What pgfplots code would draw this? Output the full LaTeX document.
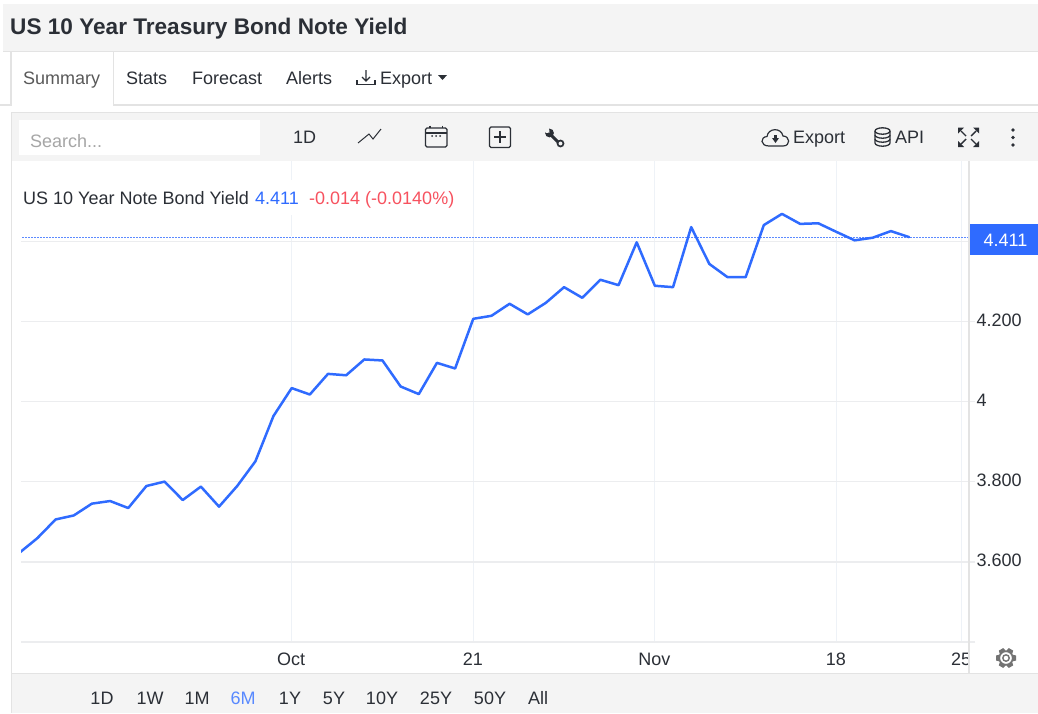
\documentclass[border=0pt]{standalone}
\usepackage{fontspec}
\setmainfont{Liberation Sans}
\usepackage{pgfplots}
\pgfplotsset{compat=1.18}
\usetikzlibrary{calc}
\definecolor{panelgray}{HTML}{F4F4F4}
\definecolor{edgegray}{HTML}{E3E3E3}
\definecolor{hgrid}{HTML}{ECEDEF}
\definecolor{vgrid}{HTML}{EEF2F7}
\definecolor{inkdark}{HTML}{2B2F36}
\definecolor{seriesblue}{HTML}{2F6BFF}
\definecolor{pricedots}{HTML}{5C8AFF}
\definecolor{downred}{HTML}{F7525F}
\newcommand{\fs}[1]{\fontsize{#1}{#1}\selectfont}
\pgfplotstableread{
i  yield
0  3.6225
1  3.6595
2  3.706
3  3.716
4  3.7455
5  3.752
6  3.7345
7  3.7895
8  3.8005
9  3.7545
10 3.788
11 3.738
12 3.7895
13 3.851
14 3.9645
15 4.034
16 4.018
17 4.0695
18 4.066
19 4.1055
20 4.103
21 4.038
22 4.019
23 4.097
24 4.083
25 4.207
26 4.2145
27 4.2445
28 4.218
29 4.247
30 4.286
31 4.2595
32 4.3045
33 4.291
34 4.398
35 4.2895
36 4.286
37 4.436
38 4.344
39 4.311
40 4.311
41 4.441
42 4.469
43 4.444
44 4.4455
45 4.424
46 4.403
47 4.4095
48 4.426
49 4.411
}\yieldtable
\begin{document}
\begin{tikzpicture}
% page frame, header, tabs and toolbar
\begin{scope}[x=1pt,y=-1pt]
\path[use as bounding box] (0,0) rectangle (1038,713);
\fill[white] (0,0) rectangle (1038,713);
\fill[panelgray] (3,4) rectangle (1038,51);
\draw[edgegray,line width=1.2pt] (3,51.5) -- (1038,51.5);
\node[anchor=base west,inner sep=0pt,text=inkdark,font=\fs{22.6}\bfseries] at (10,34) {US 10 Year Treasury Bond Note Yield};
\draw[edgegray,line width=1.5pt] (0,105) -- (11,105) -- (11,52);
\draw[edgegray,line width=1.5pt] (113.5,52) -- (113.5,105) -- (1038,105);
\node[anchor=base west,inner sep=0pt,text=black!65,font=\fs{18}] at (23,84) {Summary};
\node[anchor=base west,inner sep=0pt,text=inkdark,font=\fs{18}] at (126,84) {Stats};
\node[anchor=base west,inner sep=0pt,text=inkdark,font=\fs{18}] at (192,84) {Forecast};
\node[anchor=base west,inner sep=0pt,text=inkdark,font=\fs{18}] at (286,84) {Alerts};
\node[anchor=base west,inner sep=0pt,text=inkdark,font=\fs{18}] at (380,84) {Export};
\fill[inkdark] (438,75) -- (447,75) -- (442.5,80) -- cycle;
\draw[inkdark,line width=1.3pt] (366,70) -- (366,81) (362,77) -- (366,81) -- (370,77);
\draw[inkdark,line width=1.3pt] (357,80) -- (357,84.5) -- (375,84.5) -- (375,80);
% chart panel
\fill[panelgray] (11,112) rectangle (1038,161);
\draw[edgegray,line width=1pt] (11,112.5) -- (1038,112.5);
\fill[white] (19,120) rectangle (260,155);
\node[anchor=base west,inner sep=0pt,text=black!35,font=\fs{18}] at (30,147) {Search...};
\node[anchor=base west,inner sep=0pt,text=inkdark,font=\fs{18}] at (293,143) {1D};
\draw[inkdark,line width=1pt] (358,143) -- (369,134) -- (373,139) -- (381,129);
\draw[inkdark,line width=1.3pt,rounded corners=1.5pt] (425.5,128) rectangle (447,147);
\draw[inkdark,line width=1.3pt] (425.5,133) -- (447,133) (430,125.5) -- (430,128) (442.5,125.5) -- (442.5,128);
\fill[inkdark] (432,136) circle (1) (436,136) circle (1) (440,136) circle (1);
\draw[inkdark,line width=1.3pt,rounded corners=1.5pt] (489.5,127) rectangle (510.5,147.5);
\draw[inkdark,line width=1.2pt] (494,137) -- (506,137) (500,131) -- (500,143);
% wrench: handle, open jaw, ring end
\draw[inkdark,line width=3pt] (550,134) -- (558,142);
\fill[inkdark] (549.5,133) circle (4.4);
\fill[panelgray] (545,128) -- (549,128) -- (549.5,132.5) -- (546,133) -- (544,131) -- cycle;
\draw[inkdark,line width=1.7pt,fill=panelgray] (560.5,143.5) circle (3);
% cloud, database, fullscreen and menu icons on the right of the toolbar
\draw[inkdark,line width=1.2pt] (769,146) .. controls (760,146) and (760,137) .. (767,136.5) .. controls (768,128) and (781,127) .. (783,136) .. controls (790,136) and (791,146) .. (783,146) -- cycle;
\fill[inkdark] (772,138) -- (779,138) -- (775.5,143) -- cycle;
\fill[inkdark] (774.3,134.5) rectangle (776.7,139);
\node[anchor=base west,inner sep=0pt,text=inkdark,font=\fs{18}] at (793,143) {Export};
\draw[inkdark,line width=1.3pt] (882.5,131) ellipse (7.5 and 3.2);
\draw[inkdark,line width=1.3pt] (875,131) -- (875,143) arc (180:360:7.5 and -3.2) -- (890,131);
\draw[inkdark,line width=1.3pt] (875,135) arc (180:360:7.5 and -3.2) (875,139) arc (180:360:7.5 and -3.2);
\node[anchor=base west,inner sep=0pt,text=inkdark,font=\fs{18}] at (895,143) {API};
\draw[inkdark,line width=1.4pt] (961,131) -- (966,136) (976,131) -- (971,136) (961,144) -- (966,139) (976,144) -- (971,139);
\fill[inkdark] (958,127.5) -- (964,127.5) -- (958,133.5) -- cycle;
\fill[inkdark] (979,127.5) -- (973,127.5) -- (979,133.5) -- cycle;
\fill[inkdark] (958,147) -- (964,147) -- (958,141) -- cycle;
\fill[inkdark] (979,147) -- (973,147) -- (979,141) -- cycle;
\fill[inkdark] (1013,130) circle (1.9) (1013,137.5) circle (1.9) (1013,145) circle (1.9);
% range selector strip
\fill[panelgray] (12,673) rectangle (1038,713);
\draw[edgegray,line width=1pt] (12,673) -- (1038,673);
\draw[edgegray,line width=1.6pt] (11.5,112) -- (11.5,713);
\foreach \px/\lab in {102/1D,150/1W,197/1M,290/1Y,334/5Y,382/10Y,436/25Y,490/50Y,538/All}
  \node[anchor=base,inner sep=0pt,text=inkdark,font=\fs{18}] at (\px,704) {\lab};
\node[anchor=base,inner sep=0pt,text=seriesblue!80,font=\fs{18}] at (243,704) {6M};
\end{scope}
% yield series on a trading-day index
\begin{axis}[
  at={(21pt,-642pt)}, anchor=south west,
  width=948pt, height=481pt, scale only axis,
  xmin=0.094, xmax=52.3, ymin=3.4, ymax=4.601,
  axis line style={draw=none},
  grid=major,
  xmajorgrids, ymajorgrids,
  x grid style={vgrid,line width=1.2pt},
  y grid style={hgrid,line width=1.3pt},
  xtick={15,25,35,45,51.9},
  xticklabels={Oct,21,Nov,18,25},
  ytick={3.4,3.6,3.8,4,4.2,4.4},
  yticklabels={,3.600,3.800,4,4.200,},
  ytick pos=right,
  yticklabel pos=right,
  x tick style={draw=none},
  y tick style={hgrid,line width=1.3pt},
  tick align=outside,
  major tick length=6pt,
  xticklabel style={font=\fs{18},text=inkdark,yshift=-1.5pt,xshift=-0.5pt},
  yticklabel style={font=\fs{18},text=inkdark,xshift=-2pt,yshift=1.5pt},
  clip=true,
]
% last-price rule: a solid stroke broken into dots by a white dash on top
\addplot[draw=pricedots,line width=1pt,forget plot] coordinates {(0.094,4.411) (52.3,4.411)};
\addplot[draw=white,line width=1.6pt,dash pattern=on 1.2pt off 1.8pt,forget plot] coordinates {(0.094,4.411) (52.3,4.411)};
\addplot[seriesblue,line width=2.5pt,line join=round,line cap=round] table[x=i,y=yield] {\yieldtable};
\end{axis}
% overlays above the plot: readout, price tag, right-hand rule, settings gear
\begin{scope}[x=1pt,y=-1pt]
\fill[white] (21,180) rectangle (299,215);
\node[anchor=base west,inner sep=0pt,text=inkdark,font=\fs{18}] at (23,204.5) {US 10 Year Note Bond Yield};
\node[anchor=base west,inner sep=0pt,text=seriesblue,font=\fs{18}] at (255,204.5) {4.411};
\node[anchor=base west,inner sep=0pt,text=downred,font=\fs{18}] at (309,204.5) {-0.014 (-0.0140\%)};
\fill[white] (969.5,648) rectangle (992,672);
\draw[edgegray,line width=1.2pt] (969,161) -- (969,673);
\fill[seriesblue] (970,224) rectangle (1038,255);
\node[anchor=center,inner sep=0pt,text=white,font=\fs{18}] at (1005.5,240.5) {4.411};
\foreach \a in {0,60,...,300}
  \fill[black!55] ($(1006,658)+(\a:10)+(\a+90:2.5)$) -- ($(1006,658)+(\a:10)+(\a-90:2.5)$) -- ($(1006,658)+(\a:6)+(\a-90:3.5)$) -- ($(1006,658)+(\a:6)+(\a+90:3.5)$) -- cycle;
\draw[black!55,line width=1.6pt,fill=white] (1006,658) circle (6.7);
\draw[black!55,line width=1.4pt] (1006,658) circle (3.2);
\end{scope}
\end{tikzpicture}
\end{document}
